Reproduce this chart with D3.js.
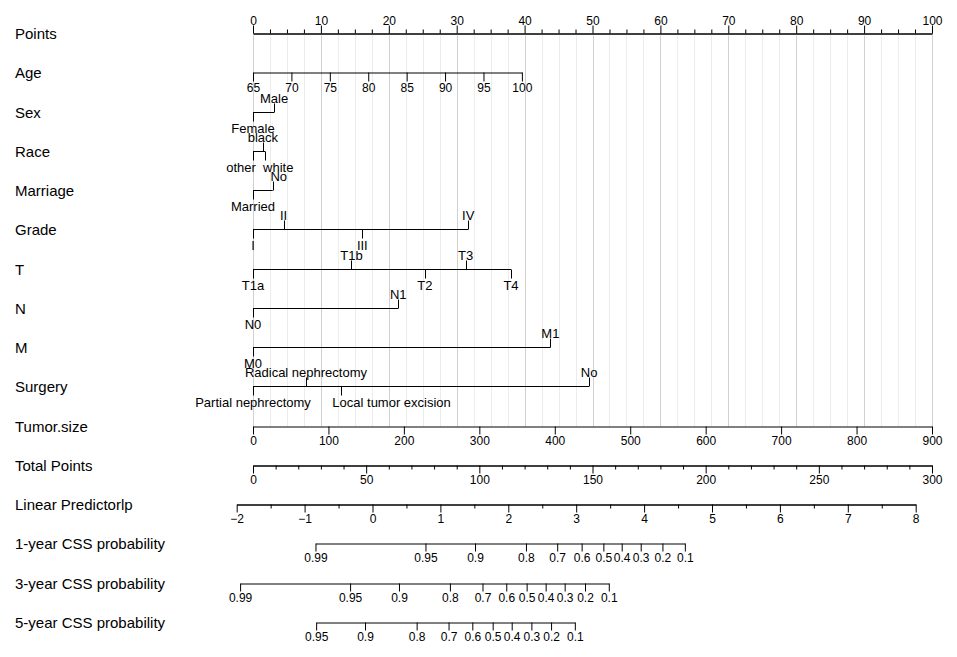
<!DOCTYPE html>
<html>
<head>
<meta charset="utf-8">
<script src="https://d3js.org/d3.v7.min.js"></script>
<style>
body { margin: 0; background: #fff; }
text { font-family: "Liberation Sans", Arial, sans-serif; fill: #000; }
</style>
</head>
<body>
<svg></svg>
<script>
// row labels of the nomogram
var rowNames = ["Points", "Age", "Sex", "Race", "Marriage", "Grade", "T", "N", "M",
    "Surgery", "Tumor.size", "Total Points", "Linear Predictorlp",
    "1-year CSS probability", "3-year CSS probability", "5-year CSS probability"];

// points scale
var pointsMajor = [0, 10, 20, 30, 40, 50, 60, 70, 80, 90, 100];
var pointsMinor = [2.5, 5, 7.5, 12.5, 15, 17.5, 22.5, 25, 27.5, 32.5, 35, 37.5, 42.5, 45, 47.5,
    52.5, 55, 57.5, 62.5, 65, 67.5, 72.5, 75, 77.5, 82.5, 85, 87.5, 92.5, 95, 97.5];

// continuous predictors: value range and the points they map to
var ageTicks = [65, 70, 75, 80, 85, 90, 95, 100];
var ageRange = [65, 100];
var agePoints = [0, 39.6];
var tumorTicks = [0, 100, 200, 300, 400, 500, 600, 700, 800, 900];
var tumorRange = [0, 900];
var tumorPoints = [0, 100];

// categorical predictors
var sexLevels = ["Female", "Male"];
var sexPoints = [0, 3.1];
var raceLevels = ["other", "black", "white"];
var racePoints = [0, 1.45, 1.8];
var marriageLevels = ["Married", "No"];
var marriagePoints = [0, 2.9];
var gradeLevels = ["I", "II", "III", "IV"];
var gradePoints = [0, 4.5, 16.1, 31.7];
var tLevels = ["T1a", "T1b", "T2", "T3", "T4"];
var tPoints = [0, 14.5, 25.3, 31.3, 38.0];
var nLevels = ["N0", "N1"];
var nPoints = [0, 21.4];
var mLevels = ["M0", "M1"];
var mPoints = [0, 43.8];
var surgeryLevels = ["Partial nephrectomy", "Radical nephrectomy", "Local tumor excision", "No"];
var surgeryPoints = [0, 7.8, 12.9, 49.5];

// total points and linear predictor
var totalMajor = [0, 50, 100, 150, 200, 250, 300];
var totalMinor = [10, 20, 30, 40, 60, 70, 80, 90, 110, 120, 130, 140, 160, 170, 180, 190,
    210, 220, 230, 240, 260, 270, 280, 290];
var lpMajor = [-2, -1, 0, 1, 2, 3, 4, 5, 6, 7, 8];
var lpMinor = [-1.5, -0.5, 0.5, 1.5, 2.5, 3.5, 4.5, 5.5, 6.5, 7.5];

// survival probability scales, placed on the linear predictor
var oneYearProb = [0.99, 0.95, 0.9, 0.8, 0.7, 0.6, 0.5, 0.4, 0.3, 0.2, 0.1];
var oneYearLp = [-0.84, 0.78, 1.51, 2.26, 2.72, 3.08, 3.40, 3.67, 3.95, 4.27, 4.60];
var threeYearProb = [0.99, 0.95, 0.9, 0.8, 0.7, 0.6, 0.5, 0.4, 0.3, 0.2, 0.1];
var threeYearLp = [-1.95, -0.33, 0.39, 1.14, 1.62, 1.97, 2.27, 2.55, 2.83, 3.13, 3.48];
var fiveYearProb = [0.95, 0.9, 0.8, 0.7, 0.6, 0.5, 0.4, 0.3, 0.2, 0.1];
var fiveYearLp = [-0.83, -0.11, 0.65, 1.12, 1.47, 1.77, 2.05, 2.34, 2.63, 2.98];

// label nudges (px) so crowded level names do not collide, as in the original
var labelNudge = {
    "Race:other": -12,
    "Race:white": 13,
    "Marriage:No": 6,
    "Surgery:Local tumor excision": 51
};

var svg = d3.select("svg")
    .attr("width", 957)
    .attr("height", 657);

var pointsX = d3.scaleLinear().domain([0, 100]).range([253, 932]);
var totalX = d3.scaleLinear().domain([0, 300]).range([253, 932]);
var lpX = d3.scaleLinear().domain([-2, 8]).range([236.7, 915.7]);
var rowY = d3.scalePoint().domain(rowNames).range([33, 622]);

function yOf(name) {
    return Math.round(rowY(name)) + 0.5;
}

// vertical reference lines behind everything
var grid = svg.append("g");
grid.selectAll("line.minor")
    .data(pointsMinor).enter()
    .append("line")
    .attr("x1", function(d){ return Math.round(pointsX(d)) + 0.5; })
    .attr("x2", function(d){ return Math.round(pointsX(d)) + 0.5; })
    .attr("y1", yOf("Points") + 2)
    .attr("y2", yOf("Tumor.size"))
    .attr("stroke", "#ececec");
grid.selectAll("line.major")
    .data(pointsMajor).enter()
    .append("line")
    .attr("x1", function(d){ return Math.round(pointsX(d)) + 0.5; })
    .attr("x2", function(d){ return Math.round(pointsX(d)) + 0.5; })
    .attr("y1", yOf("Points") + 2)
    .attr("y2", yOf("Tumor.size"))
    .attr("stroke", "#d0d0d0");

// row labels
svg.selectAll("text.rowlabel")
    .data(rowNames).enter()
    .append("text")
    .attr("class", "rowlabel")
    .attr("x", 15)
    .attr("y", function(d){ return yOf(d); })
    .attr("dy", "0.35em")
    .attr("font-size", 15)
    .text(function(d){ return d; });

function styleAxis(g) {
    g.attr("font-family", null).attr("font-size", 12);
    g.selectAll("path.domain").attr("stroke", "#000");
    g.selectAll(".tick line").attr("stroke", "#000");
    g.selectAll(".tick text").attr("fill", "#000");
}

function drawAxis(name, axis) {
    var g = svg.append("g").attr("transform", "translate(0," + yOf(name) + ")");
    g.call(axis);
    styleAxis(g);
    return g;
}

// Points
drawAxis("Points", d3.axisTop(pointsX).tickValues(pointsMinor).tickSize(4)
    .tickFormat("").tickSizeOuter(0));
drawAxis("Points", d3.axisTop(pointsX).tickValues(pointsMajor).tickSize(8)
    .tickPadding(1).tickSizeOuter(0));

// Age
var ageX = d3.scaleLinear().domain(ageRange)
    .range([pointsX(agePoints[0]), pointsX(agePoints[1])]);
drawAxis("Age", d3.axisBottom(ageX).tickValues(ageTicks).tickSize(9)
    .tickPadding(2).tickSizeOuter(0));

// categorical axes: levels sorted by points, labels alternate below / above
function catAxis(name, levels, pts) {
    var items = levels.map(function(l, i){ return {label: l, pts: pts[i]}; })
        .sort(function(a, b){ return a.pts - b.pts; });
    items.forEach(function(d, i){ d.side = (i % 2 === 0) ? 1 : -1; });

    var g = svg.append("g").attr("transform", "translate(0," + yOf(name) + ")");
    g.append("line")
        .attr("x1", pointsX(d3.min(pts)))
        .attr("x2", pointsX(d3.max(pts)))
        .attr("stroke", "#000");
    g.selectAll("line.tick")
        .data(items).enter()
        .append("line")
        .attr("x1", function(d){ return Math.round(pointsX(d.pts)) + 0.5; })
        .attr("x2", function(d){ return Math.round(pointsX(d.pts)) + 0.5; })
        .attr("y1", 0)
        .attr("y2", function(d){ return d.side * 9; })
        .attr("stroke", "#000");
    g.selectAll("text")
        .data(items).enter()
        .append("text")
        .attr("x", function(d){
            return pointsX(d.pts) + (labelNudge[name + ":" + d.label] || 0);
        })
        .attr("y", function(d){ return d.side > 0 ? 20 : -9.5; })
        .attr("text-anchor", "middle")
        .attr("font-size", 13)
        .text(function(d){ return d.label; });
}

catAxis("Sex", sexLevels, sexPoints);
catAxis("Race", raceLevels, racePoints);
catAxis("Marriage", marriageLevels, marriagePoints);
catAxis("Grade", gradeLevels, gradePoints);
catAxis("T", tLevels, tPoints);
catAxis("N", nLevels, nPoints);
catAxis("M", mLevels, mPoints);
catAxis("Surgery", surgeryLevels, surgeryPoints);

// Tumor size
var tumorX = d3.scaleLinear().domain(tumorRange)
    .range([pointsX(tumorPoints[0]), pointsX(tumorPoints[1])]);
drawAxis("Tumor.size", d3.axisBottom(tumorX).tickValues(tumorTicks).tickSize(8)
    .tickPadding(2).tickSizeOuter(0));

// Total points
drawAxis("Total Points", d3.axisBottom(totalX).tickValues(totalMinor).tickSize(4)
    .tickFormat("").tickSizeOuter(0));
drawAxis("Total Points", d3.axisBottom(totalX).tickValues(totalMajor).tickSize(8)
    .tickPadding(2).tickSizeOuter(0));

// Linear predictor
drawAxis("Linear Predictorlp", d3.axisBottom(lpX).tickValues(lpMinor).tickSize(4)
    .tickFormat("").tickSizeOuter(0));
drawAxis("Linear Predictorlp", d3.axisBottom(lpX).tickValues(lpMajor).tickSize(8)
    .tickPadding(2).tickSizeOuter(0));

// probability axes
function probAxis(name, probs, lps) {
    var sub = d3.scaleLinear().domain(d3.extent(lps)).range(d3.extent(lps).map(lpX));
    drawAxis(name, d3.axisBottom(sub).tickValues(lps).tickSize(8).tickPadding(2)
        .tickSizeOuter(0).tickFormat(function(d, i){ return String(probs[i]); }));
}
probAxis("1-year CSS probability", oneYearProb, oneYearLp);
probAxis("3-year CSS probability", threeYearProb, threeYearLp);
probAxis("5-year CSS probability", fiveYearProb, fiveYearLp);
</script>
</body>
</html>
